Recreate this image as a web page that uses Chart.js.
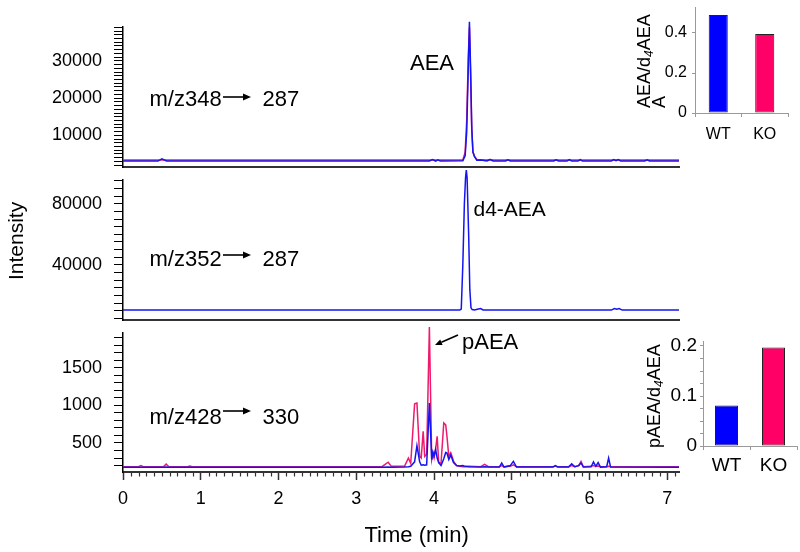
<!DOCTYPE html>
<html><head><meta charset="utf-8">
<script src="https://cdn.jsdelivr.net/npm/chart.js@4"></script>
<style>
body{margin:0;background:#fff;}
#wrap{position:relative;width:800px;height:552px;overflow:hidden;font-family:"Liberation Sans",Arial,sans-serif;color:#000;background:#fff;}
canvas{position:absolute;}
.t{position:absolute;white-space:nowrap;line-height:1;}
.rot{position:absolute;white-space:nowrap;transform-origin:0 0;transform:rotate(-90deg);}
svg{position:absolute;overflow:visible;}
</style></head><body><div id="wrap">
<canvas id="c1" width="800" height="175" style="left:0;top:0"></canvas>
<canvas id="c2" width="800" height="158" style="left:0;top:170px"></canvas>
<canvas id="c3" width="800" height="230" style="left:0;top:322px"></canvas>
<canvas id="c4" width="200" height="150" style="left:600px;top:0"></canvas>
<canvas id="c5" width="200" height="150" style="left:600px;top:330px"></canvas>

<div class="t" style="left:149.5px;top:88.3px;font-size:22px">m/z348</div>
<svg style="left:222px;top:91.7px" width="30" height="10"><line x1="1" y1="5" x2="22" y2="5" stroke="#000" stroke-width="1.6"/><polygon points="21,1.6 29,5 21,8.4" fill="#000"/></svg>
<div class="t" style="left:262.5px;top:88.3px;font-size:22px">287</div>

<div class="t" style="left:149.5px;top:248.1px;font-size:22px">m/z352</div>
<svg style="left:222px;top:250px" width="30" height="10"><line x1="1" y1="5" x2="22" y2="5" stroke="#000" stroke-width="1.6"/><polygon points="21,1.6 29,5 21,8.4" fill="#000"/></svg>
<div class="t" style="left:262.5px;top:248.1px;font-size:22px">287</div>

<div class="t" style="left:149.5px;top:406px;font-size:22px">m/z428</div>
<svg style="left:222px;top:405.7px" width="30" height="10"><line x1="1" y1="5" x2="22" y2="5" stroke="#000" stroke-width="1.6"/><polygon points="21,1.6 29,5 21,8.4" fill="#000"/></svg>
<div class="t" style="left:262.5px;top:406px;font-size:22px">330</div>

<div class="t" style="left:410px;top:51.8px;font-size:22px">AEA</div>
<div class="t" style="left:473.5px;top:198.3px;font-size:21px">d4-AEA</div>
<div class="t" style="left:462px;top:331px;font-size:22px">pAEA</div>
<svg style="left:430px;top:328px" width="32" height="22"><line x1="28" y1="7" x2="11.4" y2="14.2" stroke="#000" stroke-width="1.6"/><polygon points="5,17 12.6,17 10.2,11.5" fill="#000"/></svg>

<div class="rot" style="left:4.8px;top:280px;font-size:21px;line-height:21px">Intensity</div>
<div class="t" style="left:364.5px;top:524.3px;font-size:22px">Time (min)</div>

<div class="rot" style="left:638px;top:108px;font-size:18px;line-height:13px">AEA/d<span style="font-size:12px;font-style:italic;position:relative;top:3px">4</span>AEA<br>A</div>
<div class="rot" style="left:645px;top:448px;font-size:18px;line-height:18px">pAEA/d<span style="font-size:12px;font-style:italic;position:relative;top:3px">4</span>AEA</div>
</div>
<script>
// ---------- data ----------
const xMax = 7.15;
const timeTicks = [0, 1, 2, 3, 4, 5, 6, 7];

// m/z 348 -> 287 (AEA)
const timeAEA = [0, 0.45, 0.50, 0.56, 3.94, 3.98, 4.02, 4.05, 4.08, 4.37, 4.40, 4.42, 4.44, 4.455, 4.47, 4.485, 4.50, 4.52, 4.55, 4.60, 4.68, 4.72, 4.76, 4.92, 4.95, 4.98, 5.54, 5.57, 5.60, 5.71, 5.74, 5.77, 5.85, 5.88, 5.91, 6.28, 6.31, 6.34, 6.37, 6.40, 6.71, 6.74, 6.77, 7.15];
const aeaWT = [3100, 3100, 3700, 3100, 3100, 3500, 3100, 3450, 3100, 3150, 4500, 11000, 28000, 40500, 28000, 12000, 5500, 4300, 3300, 3400, 3100, 3500, 3100, 3100, 3400, 3100, 3100, 3400, 3100, 3100, 3500, 3100, 3100, 3400, 3100, 3100, 3500, 3200, 3500, 3100, 3100, 3400, 3100, 3100];
const aeaKO = [3350, 3350, 3350, 3350, 3350, 3350, 3350, 3350, 3350, 3400, 5500, 14000, 31000, 39000, 26000, 11500, 5500, 4400, 3500, 3450, 3350, 3500, 3350, 3350, 3450, 3350, 3350, 3450, 3350, 3350, 3450, 3350, 3350, 3500, 3350, 3350, 3450, 3350, 3450, 3350, 3350, 3400, 3350, 3350];
const aeaMajor = [10000, 20000, 30000];

// m/z 352 -> 287 (d4-AEA)
const timeD4 = [0, 4.33, 4.35, 4.37, 4.39, 4.405, 4.415, 4.425, 4.445, 4.46, 4.475, 4.49, 4.52, 4.57, 4.60, 4.63, 6.28, 6.32, 6.35, 6.38, 6.42, 7.15];
const d4WT = [10500, 10500, 11200, 40000, 80000, 97000, 102000, 97000, 60000, 24000, 12000, 10800, 10600, 11200, 11500, 10600, 10500, 11500, 11000, 11500, 10500, 10500];
const d4Major = [40000, 80000];

// m/z 428 -> 330 (pAEA)
const timeP = [0, 0.20, 0.23, 0.26, 0.52, 0.555, 0.59, 0.83, 0.86, 0.89,
  3.33, 3.41, 3.45, 3.62, 3.67, 3.70, 3.75, 3.78, 3.815, 3.835,
  3.86, 3.88, 3.905, 3.94, 3.97, 3.985, 4.00, 4.02, 4.04, 4.06,
  4.09, 4.125, 4.15, 4.165, 4.19, 4.215, 4.25, 4.29, 4.33, 4.37,
  4.40, 4.45, 4.60, 4.65, 4.70, 4.84, 4.87, 4.90, 4.98, 5.02,
  5.06, 5.53, 5.56, 5.59, 5.73, 5.77, 5.81, 5.86, 5.89, 5.92,
  6.02, 6.05, 6.08, 6.11, 6.14, 6.22, 6.245, 6.27, 7.15];
const pKO = [185, 185, 200, 185, 185, 220, 185, 185, 195, 185,
  185, 245, 190, 190, 300, 230, 1020, 1030, 322, 300,
  654, 322, 350, 2038, 279, 350, 300, 420, 588, 240,
  230, 765, 740, 600, 320, 371, 260, 200, 190, 185,
  185, 190, 185, 215, 185, 185, 200, 185, 190, 210,
  185, 185, 195, 185, 185, 200, 185, 200, 256, 185,
  190, 200, 190, 195, 185, 185, 190, 185, 185];
const pWT = [178, 178, 178, 178, 178, 182, 178, 178, 178, 178,
  178, 180, 178, 180, 185, 190, 250, 464, 250, 205,
  210, 205, 210, 1030, 280, 382, 330, 415, 300, 240,
  200, 290, 375, 370, 280, 340, 240, 200, 195, 200,
  190, 185, 180, 185, 180, 180, 235, 180, 200, 256,
  180, 180, 200, 180, 180, 225, 185, 200, 235, 180,
  185, 250, 190, 240, 180, 185, 300, 180, 178];
const pMajor = [500, 1000, 1500];

// insets
const barCats = ['WT', 'KO'];
const ratioAEA = [0.49, 0.395];
const ratioPAEA = [0.081, 0.197];
const ratioAEATicks = [0, 0.2, 0.4];
const ratioPAEAMajor = [0, 0.1, 0.2];

// ---------- style ----------
const BLUE = '#1414F2', PINK = '#EE1A6E';
const BAR_BLUE = '#0000FF', BAR_PINK = '#FF0066';

Chart.defaults.font.family = '"Liberation Sans", Arial, sans-serif';
Chart.defaults.color = '#000';
Chart.defaults.animation = false;
Chart.defaults.plugins.legend.display = false;
Chart.defaults.plugins.tooltip.enabled = false;

function range(a, b, step) { const r = []; for (let i = 0; a + i * step <= b + 1e-9; i++) r.push(Math.round((a + i * step) * 1000) / 1000); return r; }
function pts(ts, vs) { return ts.map((t, i) => ({ x: t, y: vs[i] })); }
function lineDs(ts, vs, color) {
  return { data: pts(ts, vs), borderColor: color, borderWidth: 1.5, pointRadius: 0, fill: false, tension: 0, clip: false };
}
function zeroPad(s) { s.paddingTop = 0; s.paddingBottom = 0; s.paddingLeft = 0; s.paddingRight = 0; }
function yAxis(min, max, tickVals, labelVals) {
  return {
    type: 'linear', position: 'left', min, max,
    afterFit: s => { s.width = 123; zeroPad(s); },
    afterBuildTicks: s => { s.ticks = tickVals.map(v => ({ value: v })); },
    ticks: { autoSkip: false, padding: 12, font: { size: 18 }, color: '#000',
      callback: v => labelVals.includes(v) ? String(v) : '' },
    grid: { drawOnChartArea: false, drawTicks: true, tickLength: 9, tickColor: '#000', tickWidth: 1 },
    border: { display: true, color: '#000', width: 1.5 }
  };
}
function xPlain(h) {
  return {
    type: 'linear', position: 'bottom', min: 0, max: xMax,
    afterFit: s => { s.height = h; zeroPad(s); },
    ticks: { display: false },
    grid: { display: true, drawOnChartArea: false, drawTicks: false },
    border: { display: true, color: '#333', width: 2 }
  };
}
const minorX = {
  id: 'minorX',
  afterDraw(chart) {
    const s = chart.scales.x, ctx = chart.ctx, y = chart.chartArea.bottom;
    ctx.save(); ctx.strokeStyle = '#333'; ctx.lineWidth = 1.2;
    range(0.1, 7.1, 0.1).forEach(v => {
      if (Math.abs(v - Math.round(v)) < 1e-6) return;
      const px = Math.round(s.getPixelForValue(v)) + 0.5;
      ctx.beginPath(); ctx.moveTo(px, y); ctx.lineTo(px, y + 4.5); ctx.stroke();
    });
    ctx.restore();
  }
};
const base = { responsive: false, maintainAspectRatio: false, devicePixelRatio: 1 };

// panel 1
new Chart(document.getElementById('c1'), {
  type: 'line',
  data: { datasets: [lineDs(timeAEA, aeaWT, BLUE), lineDs(timeAEA, aeaKO, PINK)] },
  options: Object.assign({}, base, {
    layout: { padding: { top: 27, right: 121, left: 0, bottom: 0 } },
    scales: { x: xPlain(8), y: yAxis(1500, 39100, range(2000, 39000, 1000), aeaMajor) }
  })
});
// panel 2
new Chart(document.getElementById('c2'), {
  type: 'line',
  data: { datasets: [lineDs(timeD4, d4WT, BLUE)] },
  options: Object.assign({}, base, {
    layout: { padding: { top: 10, right: 121, left: 0, bottom: 0 } },
    scales: { x: xPlain(8), y: yAxis(4000, 95500, range(5000, 95000, 5000), d4Major) }
  })
});
// panel 3
new Chart(document.getElementById('c3'), {
  type: 'line',
  data: { datasets: [lineDs(timeP, pWT, BLUE), lineDs(timeP, pKO, PINK)] },
  options: Object.assign({}, base, {
    layout: { padding: { top: 11, right: 121, left: 0, bottom: 0 } },
    scales: {
      x: {
        type: 'linear', position: 'bottom', min: 0, max: xMax,
        afterFit: s => { s.height = 80; zeroPad(s); },
        afterBuildTicks: s => { s.ticks = timeTicks.map(v => ({ value: v })); },
        ticks: { autoSkip: false, maxRotation: 0, padding: 8, font: { size: 18 }, color: '#000', callback: v => String(v) },
        grid: { drawOnChartArea: false, drawTicks: true, tickLength: 8, tickColor: '#333', tickWidth: 1.5 },
        border: { display: true, color: '#333', width: 2 }
      },
      y: yAxis(115, 1960, range(200, 1900, 100), pMajor)
    }
  }),
  plugins: [minorX]
});
// insets
function barChart(id, vals, pad, yW, xH, ymax, tickVals, labelVals, fs, barPct, tPad, xPad) {
  new Chart(document.getElementById(id), {
    type: 'bar',
    data: { labels: barCats, datasets: [{ data: vals, backgroundColor: [BAR_BLUE, BAR_PINK], borderColor: '#222', borderWidth: 1, borderSkipped: false, categoryPercentage: 1, barPercentage: barPct }] },
    options: Object.assign({}, base, {
      layout: { padding: pad },
      scales: {
        x: { afterFit: s => { s.height = xH; zeroPad(s); }, ticks: { font: { size: fs }, padding: xPad, color: '#000' },
          grid: { offset: true, drawOnChartArea: false, tickLength: 4, color: '#999' }, border: { color: '#999', width: 1 } },
        y: { min: 0, max: ymax, afterFit: s => { s.width = yW; zeroPad(s); },
          afterBuildTicks: s => { s.ticks = tickVals.map(v => ({ value: v })); },
          ticks: { autoSkip: false, font: { size: fs }, padding: tPad, color: '#000', callback: v => labelVals.includes(v) ? String(v) : '' },
          grid: { drawOnChartArea: false, tickLength: 3, color: '#999' }, border: { color: '#999', width: 1 } }
      }
    })
  });
}
barChart('c4', ratioAEA, { top: 7, right: 12, left: 0, bottom: 0 }, 95, 37, 0.53, ratioAEATicks, ratioAEATicks, 16, 0.41, 5, 8);
barChart('c5', ratioPAEA, { top: 11, right: 3, left: 0, bottom: 0 }, 103, 34, 0.21, range(0, 0.2, 0.025), ratioPAEAMajor, 19, 0.49, 3, 4);
</script>
</body></html>
